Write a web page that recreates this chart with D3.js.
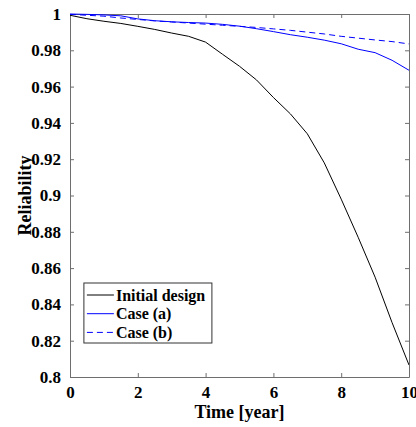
<!DOCTYPE html>
<html>
<head>
<meta charset="utf-8">
<script src="https://cdn.jsdelivr.net/npm/d3@7"></script>
<style>
  html, body { margin: 0; padding: 0; background: #fff; }
  svg { display: block; }
  text { font-family: "Liberation Serif", "Times New Roman", serif; font-weight: bold; fill: #000; }
</style>
</head>
<body>
<script>
// Time axis (years), sampled every half year
const years = [0, 0.5, 1, 1.5, 2, 2.5, 3, 3.5, 4, 4.5, 5, 5.5, 6, 6.5, 7, 7.5, 8, 8.5, 9, 9.5, 10];

// Reliability of each design over time
const initialDesign = [0.9993, 0.9974, 0.9960, 0.9948, 0.9932, 0.9915, 0.9895, 0.9877, 0.9845, 0.9778,
  0.9712, 0.9637, 0.9540, 0.9450, 0.9340, 0.9180, 0.8980, 0.8770, 0.8550, 0.8300, 0.8066];
const caseA = [1.0000, 0.9998, 0.9995, 0.9990, 0.9973, 0.9963, 0.9957, 0.9953, 0.9950, 0.9943,
  0.9933, 0.9919, 0.9903, 0.9886, 0.9872, 0.9856, 0.9836, 0.9806, 0.9787, 0.9745, 0.9690];
const caseB = [0.9998, 0.9993, 0.9988, 0.9978, 0.9970, 0.9962, 0.9956, 0.9950, 0.9944, 0.9938,
  0.9932, 0.9926, 0.9918, 0.9910, 0.9900, 0.9890, 0.9877, 0.9867, 0.9857, 0.9848, 0.9835];

const xTicks = [0, 2, 4, 6, 8, 10];
const yTicks = [0.8, 0.82, 0.84, 0.86, 0.88, 0.9, 0.92, 0.94, 0.96, 0.98, 1];
const seriesNames = ["Initial design", "Case (a)", "Case (b)"];

const W = 416, H = 427;
const margin = { left: 70, top: 14, right: 7, bottom: 50 };
const iw = W - margin.left - margin.right;
const ih = H - margin.top - margin.bottom;

const svg = d3.select("body").append("svg").attr("width", W).attr("height", H);
const g = svg.append("g").attr("transform", `translate(${margin.left},${margin.top})`);

const x = d3.scaleLinear().domain([0, 10]).range([0, iw]);
const y = d3.scaleLinear().domain([0.8, 1]).range([ih, 0]);

const axisColor = "#6e6e6e";
const tickLen = 4;
const fmt = d => String(+d.toFixed(2));

// Bottom and left axes with inward ticks
const xAxis = g.append("g").attr("transform", `translate(0,${ih})`)
  .call(d3.axisBottom(x).tickValues(xTicks).tickSizeInner(-tickLen).tickSizeOuter(0).tickPadding(9).tickFormat(fmt));
const yAxis = g.append("g")
  .call(d3.axisLeft(y).tickValues(yTicks).tickSizeInner(-tickLen).tickSizeOuter(0).tickPadding(9).tickFormat(fmt));
// Top and right axes: ticks only
const xTop = g.append("g")
  .call(d3.axisTop(x).tickValues(xTicks).tickSizeInner(-tickLen).tickSizeOuter(0).tickFormat(""));
const yRight = g.append("g").attr("transform", `translate(${iw},0)`)
  .call(d3.axisRight(y).tickValues(yTicks).tickSizeInner(-tickLen).tickSizeOuter(0).tickFormat(""));

[xAxis, yAxis, xTop, yRight].forEach(a => {
  a.selectAll("path").attr("stroke", axisColor).attr("stroke-width", 1);
  a.selectAll("line").attr("stroke", axisColor).attr("stroke-width", 1);
  a.selectAll("text").style("font-size", "17px").attr("fill", "#000")
    .style("font-family", '"Liberation Serif", serif').style("font-weight", "bold");
});

// Series lines
const line = d3.line().x((d, i) => x(years[i])).y(d => y(d));
const series = [
  { values: initialDesign, color: "#000000", dash: null },
  { values: caseA, color: "#0000ff", dash: null },
  { values: caseB, color: "#0000ff", dash: "6,4" }
];
const clip = svg.append("clipPath").attr("id", "plotclip")
  .append("rect").attr("x", 0).attr("y", -1).attr("width", iw).attr("height", ih + 2);
const lines = g.append("g").attr("clip-path", "url(#plotclip)");
series.forEach(s => {
  lines.append("path").datum(s.values)
    .attr("d", line)
    .attr("fill", "none")
    .attr("stroke", s.color)
    .attr("stroke-width", 1)
    .attr("stroke-dasharray", s.dash);
});

// Axis labels
svg.append("text")
  .attr("x", margin.left + iw / 2).attr("y", 418)
  .attr("text-anchor", "middle").style("font-size", "18px")
  .text("Time [year]");
svg.append("text")
  .attr("transform", `translate(31,${margin.top + ih / 2}) rotate(-90)`)
  .attr("text-anchor", "middle").style("font-size", "18px")
  .text("Reliability");

// Legend
const legX = x(0.41), legY = 269;
const legend = g.append("g").attr("transform", `translate(${legX},${legY})`);
legend.append("rect").attr("x", 0).attr("y", 0).attr("width", 128).attr("height", 60)
  .attr("fill", "#fff").attr("stroke", "#333").attr("stroke-width", 1);
seriesNames.forEach((name, i) => {
  const ry = 12 + i * 18.7;
  legend.append("line")
    .attr("x1", 3).attr("x2", 30).attr("y1", ry).attr("y2", ry)
    .attr("stroke", series[i].color).attr("stroke-width", 1)
    .attr("stroke-dasharray", series[i].dash);
  legend.append("text").attr("x", 32).attr("y", ry + 5.5)
    .style("font-size", "16px").text(name);
});
</script>
</body>
</html>
